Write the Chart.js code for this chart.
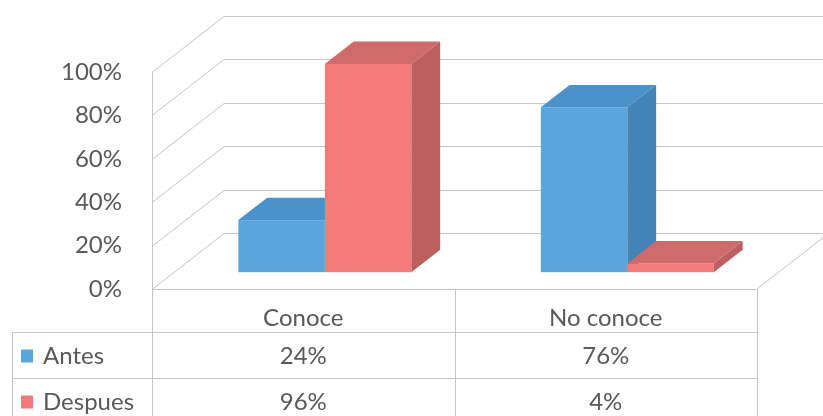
<!DOCTYPE html>
<html>
<head>
<meta charset="utf-8">
<script src="https://cdn.jsdelivr.net/npm/chart.js@4.4.1/dist/chart.umd.min.js"></script>
<style>
  html, body { margin: 0; padding: 0; background: #ffffff; }
  #wrap { width: 823px; height: 416px; position: relative; }
</style>
</head>
<body>
<div id="wrap"><canvas id="c" width="823" height="416"></canvas></div>
<script>
// Chart data
const categories = ['Conoce', 'No conoce'];
const seriesNames = ['Antes', 'Despues'];
const antes = [24, 76];
const despues = [96, 4];
const yTicks = [0, 20, 40, 60, 80, 100];

// Face colours for each series: front, top, side
const palette = [
  { front: '#5AA5DD', top: '#4C92CA', side: '#4483B7' },
  { front: '#F57B7B', top: '#D06B6B', side: '#BE5F5F' }
];

const FONT = 'Lato, "Open Sans", sans-serif';
const TEXT = '#595959';
const LINE = '#c4c4c4';

// Depth of the 3D box (walls) and where bars sit inside it
const DEPTH = { x: 72, y: -56 };
const BAR_NEAR = 0.30;
const BAR_FAR = 0.70;

function fmtPct(v) { return v + '%'; }

const walls3d = {
  id: 'walls3d',
  beforeDatasetsDraw(chart) {
    const ctx = chart.ctx;
    const ca = chart.chartArea;
    const ys = chart.scales.y;
    ctx.save();
    ctx.strokeStyle = LINE;
    ctx.lineWidth = 1;
    // gridlines: diagonal on the left wall, then along the back wall
    yTicks.forEach(v => {
      const yf = Math.round(ys.getPixelForValue(v)) + 0.5;
      ctx.beginPath();
      ctx.moveTo(ca.left, yf);
      ctx.lineTo(ca.left + DEPTH.x, yf + DEPTH.y);
      ctx.lineTo(ca.right + DEPTH.x + 10, yf + DEPTH.y);
      ctx.stroke();
    });
    // front edge of the left wall
    ctx.beginPath();
    ctx.moveTo(Math.round(ca.left) + 0.5, ys.getPixelForValue(100));
    ctx.lineTo(Math.round(ca.left) + 0.5, ca.bottom);
    ctx.stroke();
    // right edge of the floor
    ctx.beginPath();
    ctx.moveTo(ca.right, ca.bottom);
    ctx.lineTo(ca.right + DEPTH.x, ca.bottom + DEPTH.y);
    ctx.stroke();
    ctx.restore();

    // 3D bars, drawn category by category from left to right
    const metas = chart.data.datasets.map((d, i) => chart.getDatasetMeta(i));
    const n = chart.data.labels.length;
    const s0 = { x: DEPTH.x * BAR_NEAR, y: DEPTH.y * BAR_NEAR };
    const s1 = { x: DEPTH.x * BAR_FAR, y: DEPTH.y * BAR_FAR };
    ctx.save();
    for (let c = 0; c < n; c++) {
      metas.forEach((meta, si) => {
        const el = meta.data[c];
        const col = palette[si];
        const x0 = el.x - el.width / 2;
        const x1 = el.x + el.width / 2;
        const yt = el.y;
        const yb = el.base;
        // front face
        ctx.fillStyle = col.front;
        ctx.fillRect(x0 + s0.x, yt + s0.y, x1 - x0, yb - yt);
        // top face
        ctx.fillStyle = col.top;
        ctx.beginPath();
        ctx.moveTo(x0 + s0.x, yt + s0.y);
        ctx.lineTo(x1 + s0.x, yt + s0.y);
        ctx.lineTo(x1 + s1.x, yt + s1.y);
        ctx.lineTo(x0 + s1.x, yt + s1.y);
        ctx.closePath();
        ctx.fill();
        // right side face
        ctx.fillStyle = col.side;
        ctx.beginPath();
        ctx.moveTo(x1 + s0.x, yt + s0.y);
        ctx.lineTo(x1 + s1.x, yt + s1.y);
        ctx.lineTo(x1 + s1.x, yb + s1.y);
        ctx.lineTo(x1 + s0.x, yb + s0.y);
        ctx.closePath();
        ctx.fill();
      });
    }
    ctx.restore();
    return false;
  },
  afterDraw(chart) {
    // data table under the plot
    const ctx = chart.ctx;
    const ca = chart.chartArea;
    const xs = chart.scales.x;
    const n = chart.data.labels.length;
    const colW = (ca.right - ca.left) / n;
    const top = Math.round(ca.bottom) + 0.5;
    const rowH = 46;
    const headH = 43;
    const legLeft = 12.5;
    const r1 = top + headH;
    const r2 = r1 + rowH;
    const r3 = r2 + rowH;
    ctx.save();
    ctx.strokeStyle = LINE;
    ctx.lineWidth = 1;
    ctx.beginPath();
    ctx.moveTo(ca.left, top); ctx.lineTo(ca.right, top);
    ctx.moveTo(legLeft, r1); ctx.lineTo(ca.right, r1);
    ctx.moveTo(legLeft, r2); ctx.lineTo(ca.right, r2);
    ctx.moveTo(legLeft, r3); ctx.lineTo(ca.right, r3);
    for (let i = 0; i <= n; i++) {
      const x = Math.round(ca.left + colW * i) + 0.5;
      ctx.moveTo(x, top); ctx.lineTo(x, r3);
    }
    ctx.moveTo(legLeft, r1); ctx.lineTo(legLeft, r3);
    ctx.stroke();

    ctx.fillStyle = TEXT;
    ctx.font = '24px ' + FONT;
    ctx.textAlign = 'center';
    ctx.textBaseline = 'middle';
    chart.data.labels.forEach((lab, i) => {
      const cx = xs.getPixelForValue(i);
      ctx.fillText(lab, cx, top + 29);
    });
    chart.data.datasets.forEach((ds, si) => {
      const cy = (si === 0 ? r1 : r2) + 24;
      ds.data.forEach((v, i) => {
        ctx.fillStyle = TEXT;
        ctx.textAlign = 'center';
        ctx.fillText(fmtPct(v), xs.getPixelForValue(i), cy);
      });
      ctx.fillStyle = palette[si].front;
      ctx.fillRect(21, cy - 7, 12, 13);
      ctx.fillStyle = TEXT;
      ctx.textAlign = 'left';
      ctx.fillText(ds.label, 43, cy);
    });
    ctx.restore();
  }
};

new Chart(document.getElementById('c'), {
  type: 'bar',
  data: {
    labels: categories,
    datasets: [
      { label: seriesNames[0], data: antes, backgroundColor: palette[0].front },
      { label: seriesNames[1], data: despues, backgroundColor: palette[1].front }
    ]
  },
  options: {
    responsive: false,
    animation: false,
    devicePixelRatio: 1,
    layout: { padding: { left: 0, top: 72, right: 66, bottom: 127 } },
    plugins: { legend: { display: false }, tooltip: { enabled: false } },
    datasets: { bar: { categoryPercentage: 0.572, barPercentage: 1.0 } },
    scales: {
      x: { display: false },
      y: {
        min: 0, max: 100,
        afterFit(scale) { scale.width = 152; },
        afterBuildTicks(scale) { scale.ticks = yTicks.map(v => ({ value: v })); },
        grid: { display: false, drawTicks: false },
        border: { display: false },
        ticks: {
          padding: 30,
          color: TEXT,
          font: { family: FONT, size: 24 },
          callback: v => fmtPct(v)
        }
      }
    }
  },
  plugins: [walls3d]
});
</script>
</body>
</html>
